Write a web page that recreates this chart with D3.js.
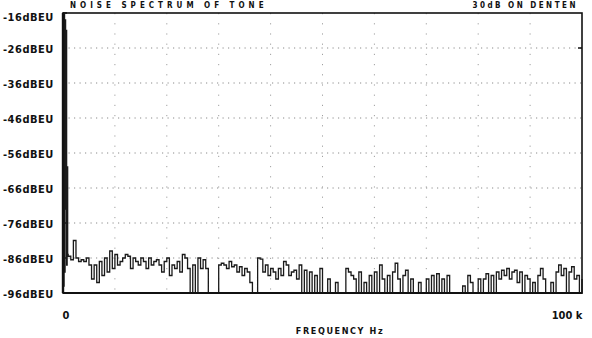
<!DOCTYPE html>
<html><head><meta charset="utf-8">
<script src="https://cdn.jsdelivr.net/npm/d3@7"></script>
<style>
html,body{margin:0;padding:0;background:#fff;}
svg{display:block;}
text{font-family:"DejaVu Sans Condensed","DejaVu Sans",sans-serif;font-weight:bold;fill:#111;}
</style></head>
<body><svg id="c" width="592" height="338"></svg>
<script>
// ---- data ----
const yTicks = [-16, -26, -36, -46, -56, -66, -76, -86, -96];
const yTickLabels = ["-16dBEU","-26dBEU","-36dBEU","-46dBEU","-56dBEU","-66dBEU","-76dBEU","-86dBEU","-96dBEU"];
const xTicks = [0, 100];
const xTickLabels = ["0", "100 k"];
const xGrid = [10, 20, 30, 40, 50, 60, 70, 80, 90];
const xTitle = "FREQUENCY Hz";
const titleLeft = "NOISE SPECTRUM OF TONE";
const titleRight = "30dB ON DENTEN";
// carrier / low-frequency region (kHz, dBEU)
const peakFreq = [0, 0.1, 0.2, 0.3, 0.4, 0.5, 0.6, 0.7, 0.8, 0.9];
const peakDb   = [-16, -94, -16.5, -90, -18, -72, -21, -88, -60, -85];
// noise floor from 1.0 kHz to 100 kHz in 0.5 kHz steps
const noiseStart = 1.0, noiseStep = 0.5;
const noiseDb = [
  -85.5, -86.5, -81, -86, -87, -86.5, -87, -86, -88,
  -92, -88, -93, -87, -91, -86, -90, -84, -89, -85,
  -88, -87, -86, -85, -85.5, -89, -86, -87, -88, -86,
  -87, -89, -86, -88, -87, -86.5, -88, -90, -87, -86,
  -91, -88, -89, -87, -90, -85, -86, -89, -96, -88,
  -96, -86, -89, -86.5, -89, -96, -96, -96, -96, -88,
  -87.5, -88, -89, -87, -88.5, -88, -90, -88.5, -91, -89,
  -90, -93, -96, -96, -86, -86.3, -90, -88, -91, -89,
  -90, -92, -89, -91, -87, -88, -91, -90, -89.5, -92,
  -88, -96, -89.5, -96, -90, -96, -91, -96, -89, -96,
  -96, -92, -96, -96, -93, -96, -96, -96, -89, -90,
  -91, -92, -96, -90, -96, -93, -96, -91, -96, -90,
  -96, -88, -92, -96, -91, -96, -90, -87.5, -92, -96,
  -91, -89.5, -96, -92, -96, -96, -93, -96, -96, -92,
  -96, -91, -96, -90.5, -96, -92, -96, -91, -96, -96,
  -96, -96, -96, -94, -96, -91, -93, -96, -96, -92,
  -96, -92, -90.5, -96, -91, -96, -90, -92, -89.5, -91,
  -89, -92, -90, -89.5, -93, -90, -96, -91, -92, -96,
  -93, -96, -91, -89, -92, -96, -96, -93, -96, -90,
  -88, -91, -89, -96, -90, -88.5, -92, -91, -96, -92
];

// ---- chart ----
const svg = d3.select("#c");
const x = d3.scaleLinear().domain([0, 100]).range([63, 582]);
const y = d3.scaleLinear().domain([-96, -16]).range([293, 13]);

const series = peakFreq.map((f, i) => ({f, v: peakDb[i]}))
  .concat(noiseDb.map((v, i) => ({f: noiseStart + i * noiseStep, v})));

// title (small, at very top)
svg.append("text").attr("x", 70).attr("y", 8).attr("font-size", 8)
  .attr("letter-spacing", 4).attr("fill", "#333").text(titleLeft);
svg.append("text").attr("x", 578).attr("y", 8).attr("font-size", 8)
  .attr("text-anchor", "end").attr("letter-spacing", 2.5).attr("fill", "#333").text(titleRight);

// horizontal dotted grid
svg.append("g").selectAll("line").data(yTicks.slice(1, -1)).join("line")
  .attr("x1", x(0)).attr("x2", x(100))
  .attr("y1", d => y(d)).attr("y2", d => y(d))
  .attr("stroke", "#8a8a8a").attr("stroke-width", 1)
  .attr("stroke-dasharray", "1.2,4.3");

// vertical dotted grid
svg.append("g").selectAll("line").data(xGrid).join("line")
  .attr("x1", d => x(d)).attr("x2", d => x(d))
  .attr("y1", y(-16)).attr("y2", y(-96))
  .attr("stroke", "#a0a0a0").attr("stroke-width", 1)
  .attr("stroke-dasharray", "1.2,9");

// left tick marks
svg.append("g").selectAll("line").data(yTicks).join("line")
  .attr("x1", x(0)).attr("x2", x(0) + 4)
  .attr("y1", d => y(d)).attr("y2", d => y(d))
  .attr("stroke", "#111").attr("stroke-width", 1.5);
// right tick mark
svg.append("line").attr("x1", x(100) - 4).attr("x2", x(100))
  .attr("y1", y(-26)).attr("y2", y(-26)).attr("stroke", "#111").attr("stroke-width", 1.5);

// trace
const line = d3.line().x(d => x(d.f)).y(d => y(d.v)).curve(d3.curveStepAfter);
svg.append("path").datum(series).attr("d", line)
  .attr("fill", "none").attr("stroke", "#1a1a1a").attr("stroke-width", 1.3)
  .attr("stroke-linejoin", "miter");

// frame
svg.append("rect").attr("x", x(0)).attr("y", y(-16))
  .attr("width", x(100) - x(0)).attr("height", y(-96) - y(-16))
  .attr("fill", "none").attr("stroke", "#111").attr("stroke-width", 1.6);
svg.append("line").attr("x1", x(0)).attr("x2", x(100)).attr("y1", y(-96)).attr("y2", y(-96))
  .attr("stroke", "#111").attr("stroke-width", 2.2);
svg.append("line").attr("x1", x(0)).attr("x2", x(0)).attr("y1", y(-16)).attr("y2", y(-96))
  .attr("stroke", "#111").attr("stroke-width", 2.4);

// y labels
svg.append("g").selectAll("text").data(yTicks).join("text")
  .attr("x", 3).attr("y", (d, i) => i === 0 ? y(d) + 4 : y(d) + 1)
  .attr("dy", "0.35em").attr("font-size", 11).attr("letter-spacing", 0.5)
  .text((d, i) => yTickLabels[i]);

// x labels
svg.append("g").selectAll("text").data(xTicks).join("text")
  .attr("x", d => d === 0 ? x(d) + 3 : x(d) - 15)
  .attr("y", 319).attr("font-size", 11).attr("text-anchor", "middle")
  .text((d, i) => xTickLabels[i]);
svg.append("text").attr("x", 340).attr("y", 334).attr("font-size", 9)
  .attr("text-anchor", "middle").attr("letter-spacing", 1.6).text(xTitle);
</script></body></html>
